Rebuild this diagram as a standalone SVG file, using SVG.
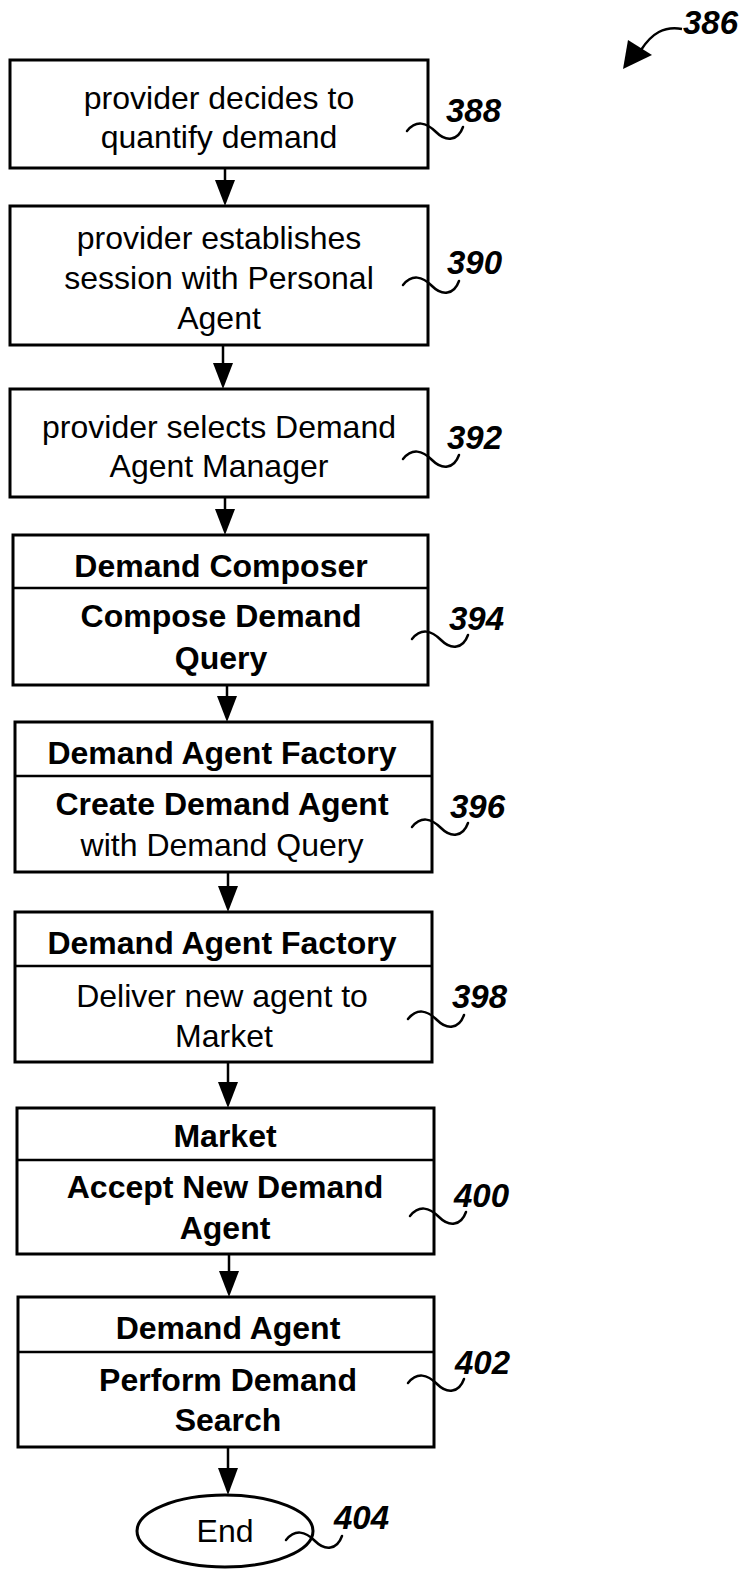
<svg xmlns="http://www.w3.org/2000/svg" width="750" height="1571" viewBox="0 0 750 1571">
<style>
.box{fill:#fff;stroke:#000;stroke-width:3}
.div{stroke:#000;stroke-width:2.5}
.t{font-family:"Liberation Sans",Arial,sans-serif;font-size:32px;text-anchor:middle;fill:#000}
.b{font-weight:bold}
.lbl{font-family:"Liberation Sans",Arial,sans-serif;font-size:33px;font-weight:bold;font-style:italic;fill:#000}
.sq{fill:none;stroke:#000;stroke-width:2.5;stroke-linecap:round}
.con{stroke:#000;stroke-width:2.5;fill:none}
</style>
<defs>
<path id="sq" d="M0,9 C9,-2 19,0 29,10 C39,20 51,19 56,5"/>
</defs>
<rect width="750" height="1571" fill="#fff"/>

<g id="connectors">
<line class="con" x1="225" y1="168" x2="225" y2="200"/>
<path d="M215,180 L235,180 L225,206 Z"/>
<line class="con" x1="223" y1="345" x2="223" y2="383"/>
<path d="M213,363 L233,363 L223,389 Z"/>
<line class="con" x1="225" y1="497" x2="225" y2="530"/>
<path d="M215,509 L235,509 L225,535 Z"/>
<line class="con" x1="227" y1="685" x2="227" y2="717"/>
<path d="M217,696 L237,696 L227,722 Z"/>
<line class="con" x1="228" y1="872" x2="228" y2="907"/>
<path d="M218,886 L238,886 L228,912 Z"/>
<line class="con" x1="228" y1="1062" x2="228" y2="1103"/>
<path d="M218,1082 L238,1082 L228,1108 Z"/>
<line class="con" x1="229" y1="1254" x2="229" y2="1292"/>
<path d="M219,1271 L239,1271 L229,1297 Z"/>
<line class="con" x1="228" y1="1447" x2="228" y2="1490"/>
<path d="M218,1468 L238,1468 L228,1495 Z"/>
<path class="con" d="M682,29 C664,26 652,33 641,50" stroke-width="3"/>
<path d="M623,69 L628,40 L652,55 Z"/>
</g>

<g id="label-386"><text class="lbl" x="683" y="34">386</text></g>

<g id="n388">
<rect class="box" x="10" y="60" width="418" height="108"/>
<text class="t" x="219" y="109">provider decides to</text>
<text class="t" x="219" y="148">quantify demand</text>
<use href="#sq" class="sq" transform="translate(407,122)"/>
<text class="lbl" x="446" y="122">388</text>
</g>

<g id="n390">
<rect class="box" x="10" y="206" width="418" height="139"/>
<text class="t" x="219" y="249">provider establishes</text>
<text class="t" x="219" y="289">session with Personal</text>
<text class="t" x="219" y="329">Agent</text>
<use href="#sq" class="sq" transform="translate(403,276)"/>
<text class="lbl" x="447" y="274">390</text>
</g>

<g id="n392">
<rect class="box" x="10" y="389" width="418" height="108"/>
<text class="t" x="219" y="438">provider selects Demand</text>
<text class="t" x="219" y="477">Agent Manager</text>
<use href="#sq" class="sq" transform="translate(403,450)"/>
<text class="lbl" x="447" y="449">392</text>
</g>

<g id="n394">
<rect class="box" x="13" y="535" width="415" height="150"/>
<line class="div" x1="13" y1="588" x2="428" y2="588"/>
<text class="t b" x="221" y="577">Demand Composer</text>
<text class="t b" x="221" y="627">Compose Demand</text>
<text class="t b" x="221" y="669">Query</text>
<use href="#sq" class="sq" transform="translate(412,630)"/>
<text class="lbl" x="449" y="630">394</text>
</g>

<g id="n396">
<rect class="box" x="15" y="722" width="417" height="150"/>
<line class="div" x1="15" y1="776" x2="432" y2="776"/>
<text class="t b" x="222" y="764">Demand Agent Factory</text>
<text class="t b" x="222" y="815">Create Demand Agent</text>
<text class="t" x="222" y="856">with Demand Query</text>
<use href="#sq" class="sq" transform="translate(412,818)"/>
<text class="lbl" x="450" y="818">396</text>
</g>

<g id="n398">
<rect class="box" x="15" y="912" width="417" height="150"/>
<line class="div" x1="15" y1="966" x2="432" y2="966"/>
<text class="t b" x="222" y="954">Demand Agent Factory</text>
<text class="t" x="222" y="1007">Deliver new agent to</text>
<text class="t" x="224" y="1047">Market</text>
<use href="#sq" class="sq" transform="translate(408,1010)"/>
<text class="lbl" x="452" y="1008">398</text>
</g>

<g id="n400">
<rect class="box" x="17" y="1108" width="417" height="146"/>
<line class="div" x1="17" y1="1160" x2="434" y2="1160"/>
<text class="t b" x="225" y="1147">Market</text>
<text class="t b" x="225" y="1198">Accept New Demand</text>
<text class="t b" x="225" y="1239">Agent</text>
<use href="#sq" class="sq" transform="translate(410,1207)"/>
<text class="lbl" x="454" y="1207">400</text>
</g>

<g id="n402">
<rect class="box" x="18" y="1297" width="416" height="150"/>
<line class="div" x1="18" y1="1352" x2="434" y2="1352"/>
<text class="t b" x="228" y="1339">Demand Agent</text>
<text class="t b" x="228" y="1391">Perform Demand</text>
<text class="t b" x="228" y="1431">Search</text>
<use href="#sq" class="sq" transform="translate(408,1374)"/>
<text class="lbl" x="455" y="1374">402</text>
</g>

<g id="n404">
<ellipse class="box" cx="225" cy="1531" rx="88" ry="36"/>
<text class="t" x="225" y="1542">End</text>
<use href="#sq" class="sq" transform="translate(286,1531)"/>
<text class="lbl" x="334" y="1529">404</text>
</g>
</svg>
